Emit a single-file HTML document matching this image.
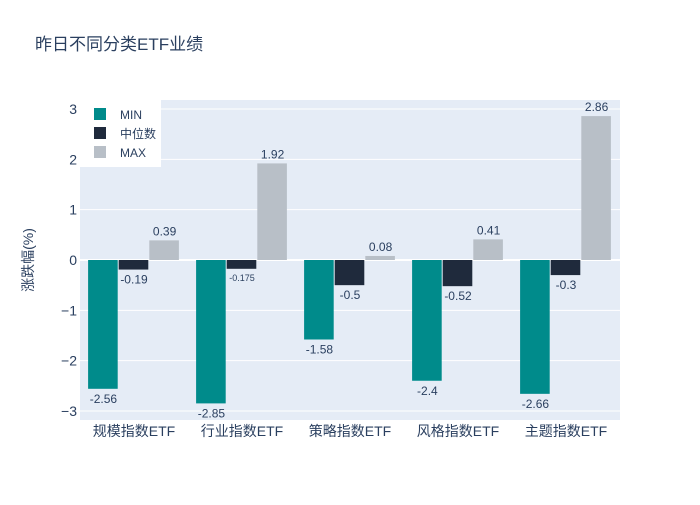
<!DOCTYPE html>
<html><head><meta charset="utf-8"><style>
body{margin:0;background:#fff;font-family:"Liberation Sans","Noto Sans CJK SC",sans-serif}
svg text{font-family:"Liberation Sans","Noto Sans CJK SC",sans-serif}
</style></head><body>
<svg id="c" width="700" height="500" xmlns="http://www.w3.org/2000/svg"></svg>
<script>
const categories=["规模指数ETF","行业指数ETF","策略指数ETF","风格指数ETF","主题指数ETF"];
const minValues=[-2.56,-2.85,-1.58,-2.4,-2.66];
const medianValues=[-0.19,-0.175,-0.5,-0.52,-0.3];
const maxValues=[0.39,1.92,0.08,0.41,2.86];
const yTicks=[-3,-2,-1,0,1,2,3];
const seriesNames=["MIN","中位数","MAX"];
const colors=["#008B8B","#1f2a3c","#b8bfc7"];
const svg=document.getElementById('c');
const NS="http://www.w3.org/2000/svg";
const L=80,R=620,T=100,B=420,yMin=-3.18,yMax=3.18;
const y=v=>T+(yMax-v)/(yMax-yMin)*(B-T);
const step=(R-L)/categories.length;
const bw=step*0.85/3;
const xc=i=>L+step*(i+0.5);
function el(tag,attrs,text){const e=document.createElementNS(NS,tag);for(const k in attrs)e.setAttribute(k,attrs[k]);if(text!==undefined)e.textContent=text;svg.appendChild(e);return e;}
let e=el('rect',{x:L,y:T,width:R-L,height:B-T,fill:'#E5ECF6'});

yTicks.forEach(t=>{
  let g=el('line',{x1:L,x2:R,y1:y(t),y2:y(t),stroke:'#fff','stroke-width':t===0?2:1});
  
  let lb=el('text',{x:L-3,y:y(t)+5,'text-anchor':'end','font-size':14,fill:'#2a3f5f'},t<0?'−'+Math.abs(t):String(t));
  
});
const all=[minValues,medianValues,maxValues];
categories.forEach((c,i)=>{
  all.forEach((arr,s)=>{
    const v=arr[i];const x0=xc(i)-1.5*bw+s*bw;
    let r=el('rect',{x:x0,y:Math.min(y(0),y(v)),width:bw-1,height:Math.abs(y(v)-y(0)),fill:colors[s]});
    
    const small=Math.abs(v)<0.18&&v<0;
    let tx=el('text',{x:x0+bw/2,y:v>=0?y(v)-5:y(v)+(small?12:14),'text-anchor':'middle','font-size':small?9:12,fill:'#2a3f5f'},String(v));
    
  });
  let cl=el('text',{x:xc(i),y:436,'text-anchor':'middle','font-size':14,fill:'#2a3f5f'},c);
  
});
let t=el('text',{x:35,y:50,'font-size':17,fill:'#2a3f5f'},'昨日不同分类ETF业绩');

let yt=el('text',{x:33,y:260,'text-anchor':'middle','font-size':14,fill:'#2a3f5f',transform:'rotate(-90 33 260)'},'涨跌幅(%)');

let lg=el('rect',{x:80,y:100,width:81,height:67,fill:'#fff'});

seriesNames.forEach((n,s)=>{
  let sw=el('rect',{x:94,y:108+s*19,width:12,height:12,fill:colors[s]});
  
  let lt=el('text',{x:120,y:119+s*19,'font-size':12,fill:'#2a3f5f'},n);
  
});
</script>
</body></html>
